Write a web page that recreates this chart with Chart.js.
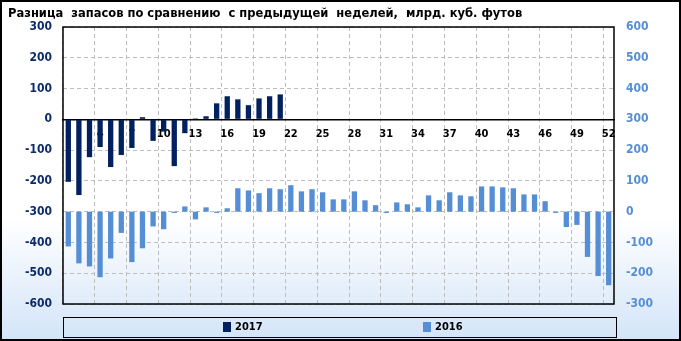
<!DOCTYPE html>
<html><head><meta charset="utf-8">
<script src="https://cdn.jsdelivr.net/npm/chart.js@4/dist/chart.umd.min.js"></script>
<style>html,body{margin:0;padding:0;background:#fff}canvas{display:block}</style>
</head><body>
<canvas id="c" width="681" height="341"></canvas>
<script>
const chartTitle = 'Разница  запасов по сравнению  с предыдущей  неделей,  млрд. куб. футов';
const weeks = ['1','2','3','4','5','6','7','8','9','10','11','12','13','14','15','16','17','18','19','20','21','22','23','24','25','26','27','28','29','30','31','32','33','34','35','36','37','38','39','40','41','42','43','44','45','46','47','48','49','50','51','52'];
const seriesNames = ['2017', '2016'];
const values2017 = [-203,-246,-123,-90,-155,-116,-93,7,-70,-40,-152,-45,3,10,52,75,65,46,68,75,81];
const values2016 = [-113,-168,-178,-213,-152,-69,-164,-119,-48,-57,-4,17,-25,14,-4,11,76,69,60,76,73,86,66,73,63,40,40,66,37,21,-4,30,24,14,53,37,63,53,50,82,82,79,76,56,56,34,-4,-50,-43,-147,-209,-239];

const FONT = '"DejaVu Sans Condensed", "DejaVu Sans", sans-serif';
const C2017 = '#002060';
const C2016 = '#558ED5';

const decor = {
  id: 'decor',
  beforeDraw(chart) {
    const {ctx, width, height} = chart;
    ctx.save();
    const g = ctx.createLinearGradient(0, 0, 0, height);
    g.addColorStop(0, '#ffffff');
    g.addColorStop(0.64, '#ffffff');
    g.addColorStop(1, '#d3e4f8');
    ctx.fillStyle = g;
    ctx.fillRect(0, 0, width, height);
    ctx.fillStyle = '#000';
    ctx.font = 'bold 12.8px ' + FONT;
    ctx.textBaseline = 'middle';
    ctx.textAlign = 'left';
    ctx.fillText(chartTitle, 8, 14);
    ctx.restore();
  },
  afterDraw(chart) {
    const {ctx, chartArea: a, width, height} = chart;
    ctx.save();
    ctx.strokeStyle = '#000';
    ctx.lineWidth = 1.5;
    ctx.strokeRect(a.left, a.top, a.right - a.left, a.bottom - a.top);
    ctx.lineWidth = 2;
    ctx.strokeRect(1, 1, width - 2, height - 2);
    // legend
    ctx.lineWidth = 1;
    ctx.strokeRect(63.5, 317.5, 553, 20);
    const xs = [223, 423];
    ctx.font = 'bold 11px ' + FONT;
    ctx.textBaseline = 'middle';
    chart.data.datasets.forEach((ds, i) => {
      ctx.fillStyle = ds.backgroundColor;
      ctx.fillRect(xs[i], 322, 8, 10);
      ctx.fillStyle = '#000';
      ctx.fillText(ds.label, xs[i] + 12, 327.5);
    });
    ctx.restore();
  }
};

new Chart(document.getElementById('c'), {
  type: 'bar',
  data: {
    labels: weeks,
    datasets: [
      { label: seriesNames[0], data: values2017, backgroundColor: C2017, yAxisID: 'y', grouped: false, barPercentage: 0.5, categoryPercentage: 1 },
      { label: seriesNames[1], data: values2016, backgroundColor: C2016, yAxisID: 'y1', grouped: false, barPercentage: 0.5, categoryPercentage: 1 }
    ]
  },
  options: {
    responsive: false,
    devicePixelRatio: 1,
    animation: false,
    layout: { padding: { top: 27, bottom: 37, left: 0, right: 0 } },
    plugins: { legend: { display: false }, title: { display: false }, tooltip: { enabled: false } },
    scales: {
      x: {
        position: { y: 0 },
        z: 1,
        offset: true,
        afterFit(s) { s.height = 0; },
        border: { display: true, color: '#000', width: 1.5, dash: [4, 3] },
        grid: {
          offset: true,
          drawTicks: false,
          color: c => (c.index % 3 === 0 ? '#bdbdbd' : 'rgba(0,0,0,0)'),
          lineWidth: 1
        },
        ticks: {
          autoSkip: false,
          maxRotation: 0,
          padding: 8,
          color: '#000',
          font: { family: FONT, size: 11, weight: 'bold' },
          callback: (v, i) => (i % 3 === 0 ? weeks[i] : '')
        }
      },
      y: {
        position: 'left',
        min: -600, max: 300,
        afterFit(s) { s.width = 63; },
        border: { display: false, dash: [4, 3] },
        grid: {
          drawTicks: false,
          color: c => (c.tick && c.tick.value === 0 ? 'rgba(0,0,0,0)' : '#bdbdbd'),
          lineWidth: 1
        },
        ticks: { stepSize: 100, padding: 11, color: '#0d2b6b', font: { family: FONT, size: 12, weight: 'bold' } }
      },
      y1: {
        position: 'right',
        min: -300, max: 600,
        afterFit(s) { s.width = 67; },
        border: { display: false },
        grid: { display: false, drawTicks: false },
        ticks: { stepSize: 100, padding: 12, color: C2016, font: { family: FONT, size: 12, weight: 'bold' } }
      }
    }
  },
  plugins: [decor]
});
</script>
</body></html>
